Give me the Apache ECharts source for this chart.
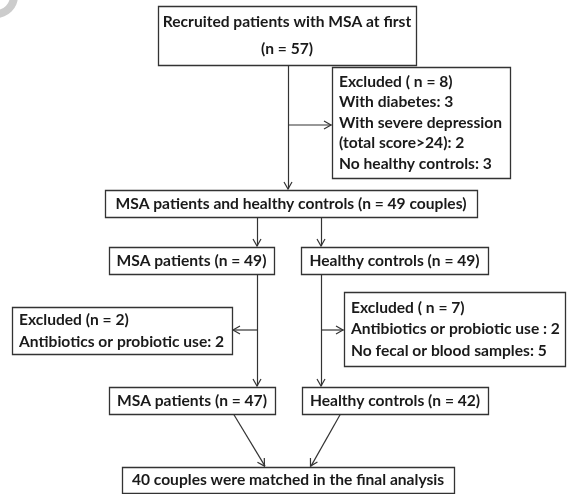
<!DOCTYPE html>
<html><head><meta charset="utf-8">
<script src="https://cdn.jsdelivr.net/npm/echarts@6/dist/echarts.min.js"></script>
<style>html,body{margin:0;padding:0;background:#fff}#c{width:568px;height:494px}</style>
</head><body><div id="c"></div>
<script>
// Flowchart content
const boxTexts = [
  ['Recruited patients with MSA at first', '(n = 57)'],
  ['Excluded ( n = 8)', 'With diabetes: 3', 'With severe depression', '(total score>24): 2', 'No healthy controls: 3'],
  ['MSA patients and healthy controls (n = 49 couples)'],
  ['MSA patients (n = 49)'],
  ['Healthy controls (n = 49)'],
  ['Excluded (n = 2)', 'Antibiotics or probiotic use: 2'],
  ['Excluded ( n = 7)', 'Antibiotics or probiotic use : 2', 'No fecal or blood samples: 5'],
  ['MSA patients (n = 47)'],
  ['Healthy controls (n = 42)'],
  ['40 couples were matched in the final analysis']
];
const boxAlign = ['center','left','center','center','center','left','left','center','center','center'];
// box extents in diagram units: [left, top, right, bottom]
const boxRects = [
  [158, 6, 416, 65],
  [332, 67, 510, 178],
  [105, 190, 477, 217],
  [109, 247, 274, 274],
  [301, 247, 488, 274],
  [12, 307, 232, 354],
  [344, 292, 565, 366],
  [109, 387, 275, 414],
  [302, 387, 488, 414],
  [122, 467, 454, 493]
];
// arrows: [fromX, fromY, toX, toY]
const arrows = [
  [288, 65, 288, 190],
  [288, 125, 332, 125],
  [257, 217, 257, 247],
  [321, 217, 321, 247],
  [257, 274, 257, 387],
  [321, 274, 321, 387],
  [257, 330, 232, 330],
  [321, 330, 344, 330],
  [233, 414, 265, 467],
  [340, 414, 310, 467]
];

const FONT = 'Lato';
const lineGap = [27, 20.5, 22, 22, 22, 22, 21.5, 22, 22, 22];
const chart = echarts.init(document.getElementById('c'), null, {renderer: 'canvas'});
chart.setOption({
  animation: false,
  backgroundColor: '#ffffff',
  grid: {left: 0, right: 0, top: 0, bottom: 0},
  xAxis: {type: 'value', min: 0, max: 568, show: false},
  yAxis: {type: 'value', min: 0, max: 494, inverse: true, show: false},
  graphic: [{
    type: 'ring', shape: {cx: -4, cy: -4, r: 22, r0: 14}, style: {fill: '#cccccc'}, silent: true
  }],
  series: [
    {
      type: 'custom',
      coordinateSystem: 'cartesian2d',
      data: boxRects.map((r, i) => [r[0], r[1], r[2], r[3], i]),
      renderItem: function (params, api) {
        const i = api.value(4);
        const p0 = api.coord([api.value(0), api.value(1)]);
        const p1 = api.coord([api.value(2), api.value(3)]);
        const lines = boxTexts[i];
        const align = boxAlign[i];
        const h = p1[1] - p0[1];
        const lh = lineGap[i];
        const startY = p0[1] + h / 2 - (lines.length - 1) * lh / 2;
        const children = [{
          type: 'rect',
          shape: {x: Math.round(p0[0]) + 0.5, y: Math.round(p0[1]) + 0.5, width: Math.round(p1[0] - p0[0]), height: Math.round(h)},
          style: {fill: '#ffffff', stroke: '#333333', lineWidth: 1.3}
        }];
        lines.forEach((t, k) => {
          children.push({
            type: 'text',
            style: {
              text: t,
              x: align === 'center' ? (p0[0] + p1[0]) / 2 : p0[0] + 7,
              y: startY + k * lh,
              align: align,
              verticalAlign: 'middle',
              fill: '#1a1a1a',
              font: 'bold 15.6px ' + FONT
            }
          });
        });
        return {type: 'group', children: children};
      },
      z: 2
    },
    {
      type: 'custom',
      coordinateSystem: 'cartesian2d',
      data: arrows,
      renderItem: function (params, api) {
        const a = api.coord([api.value(0), api.value(1)]);
        const b = api.coord([api.value(2), api.value(3)]);
        const dx = b[0] - a[0], dy = b[1] - a[1];
        const L = Math.sqrt(dx * dx + dy * dy);
        const ux = dx / L, uy = dy / L;
        const hl = 7, hw = 4;
        const bx = b[0] - ux * 1, by = b[1] - uy * 1;
        const left = [bx - ux * hl - uy * hw, by - uy * hl + ux * hw];
        const right = [bx - ux * hl + uy * hw, by - uy * hl - ux * hw];
        return {
          type: 'group',
          children: [
            {type: 'line', shape: {x1: a[0] + 0.5, y1: a[1], x2: bx + 0.5, y2: by}, style: {stroke: '#333333', lineWidth: 1.2}},
            {type: 'polyline', shape: {points: [left, [bx, by], right]}, style: {stroke: '#333333', lineWidth: 1.2, fill: null}}
          ]
        };
      },
      z: 1
    }
  ]
});
</script></body></html>
